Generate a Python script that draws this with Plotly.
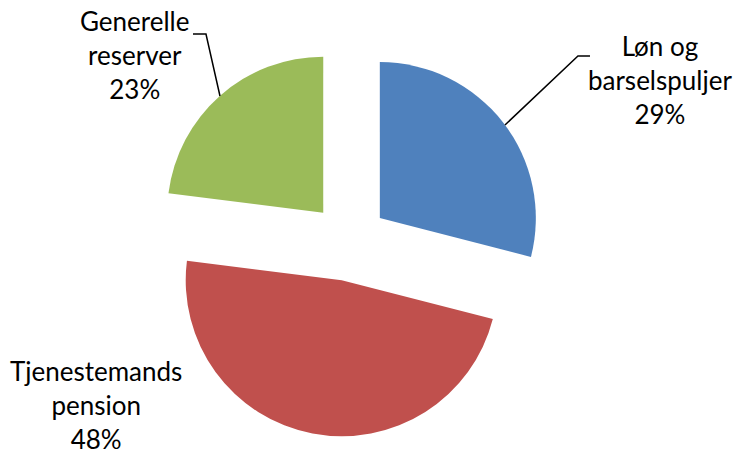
import plotly.graph_objects as go

labels = ["Løn og barselspuljer", "Tjenestemands pension", "Generelle reserver"]
values = [29, 48, 23]
colors = ["#4F81BD", "#C0504D", "#9BBB59"]
label_text = ["Løn og<br>barselspuljer<br>29%", "Tjenestemands<br>pension<br>48%", "Generelle<br>reserver<br>23%"]

W, H = 733, 449

def px(x, y):
    return x / W, 1 - y / H

fig = go.Figure(go.Pie(
    labels=labels, values=values, sort=False, direction="clockwise", rotation=0,
    marker=dict(colors=colors, line=dict(width=0)),
    pull=[0.25, 0.25, 0.25], textinfo="none", showlegend=False,
    domain=dict(x=[0.2101, 0.7422], y=[0.0267, 0.8953]),
))

label_pos = [(660, 80), (96, 405), (134, 55)]
for t, (x, y) in zip(label_text, label_pos):
    ax, ay = px(x, y)
    fig.add_annotation(text=t, x=ax, y=ay, xref="paper", yref="paper",
                       showarrow=False, xanchor="center", yanchor="middle",
                       font=dict(family="Lato", size=26, color="#000000"))

leaders = [[(505, 125), (578, 56), (590, 56)], [(220, 96), (206, 34), (193, 34)]]
for pts in leaders:
    path = "M " + " L ".join(f"{px(a, b)[0]:.4f},{px(a, b)[1]:.4f}" for a, b in pts)
    fig.add_shape(type="path", path=path, xref="paper", yref="paper",
                  line=dict(color="black", width=1.5))

fig.update_layout(width=W, height=H, margin=dict(l=0, r=0, t=0, b=0),
                  paper_bgcolor="white", plot_bgcolor="white")
fig.write_html("out.html", config={"displayModeBar": False},
               post_script="document.body.style.margin='0';document.body.style.overflow='hidden';")
